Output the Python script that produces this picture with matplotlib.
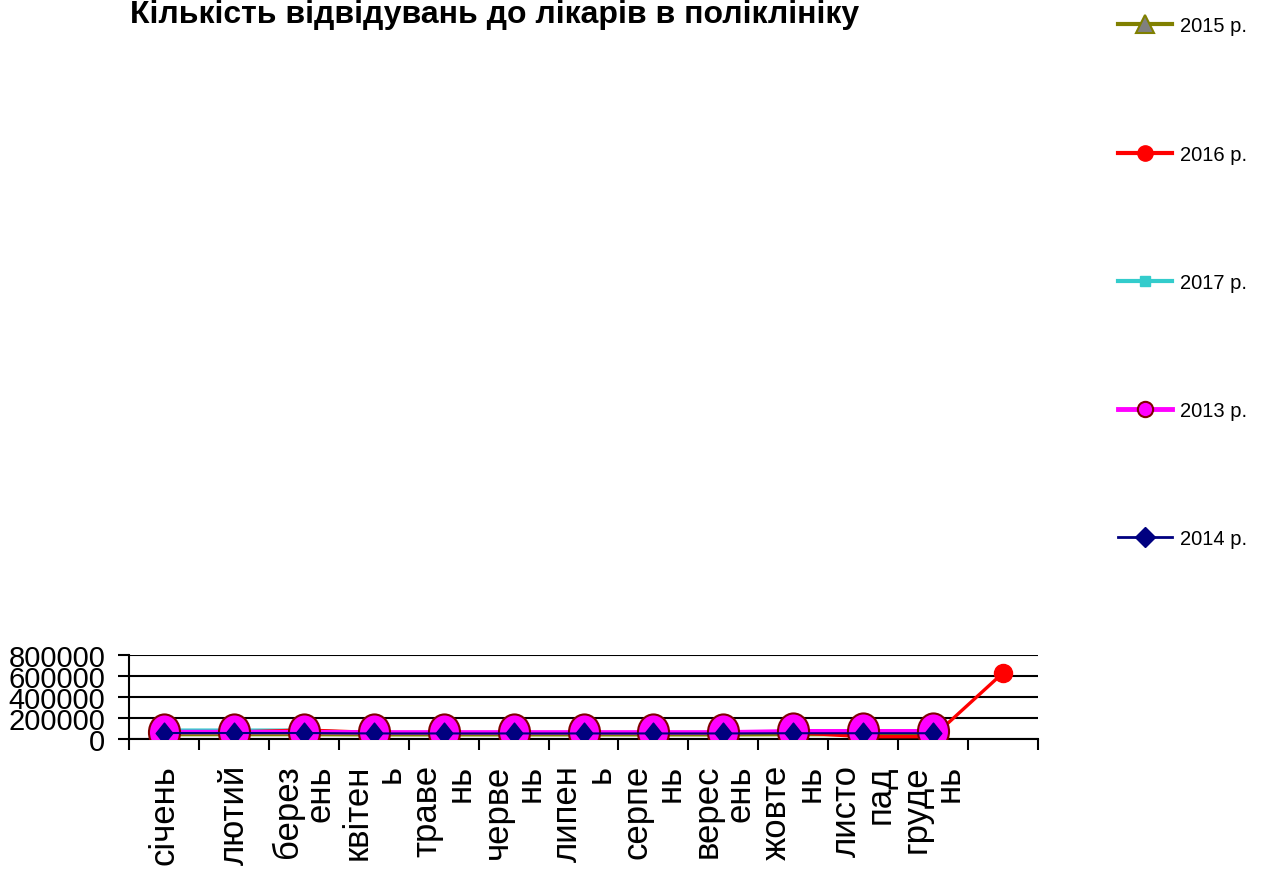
import numpy as np
import matplotlib
matplotlib.use("Agg")
import matplotlib.pyplot as plt
from matplotlib.lines import Line2D
from matplotlib.path import Path
from matplotlib.ticker import FixedLocator

plt.rcParams["font.family"] = ["Liberation Sans", "DejaVu Sans"]

# ── data ─────────────────────────────────────────────────────────────────────
months = ["січень", "лютий", "берез\nень", "квітен\nь", "траве\nнь", "черве\nнь",
          "липен\nь", "серпе\nнь", "верес\nень", "жовте\nнь", "листо\nпад",
          "груде\nнь", ""]
nan = np.nan
v2015 = [40000, 40000, 40000, 38000, 38000, 38000, 38000, 38000, 38000, 40000, 40000, 40000, nan]
v2016 = [65000, 65000, 86000, 62000, 62000, 62000, 62000, 62000, 62000, 62000, 22000, 22000, 630000]
v2017 = [86000, 86000, 86000, 56000, 56000, 56000, 56000, 56000, 56000, 58000, 58000, 58000, nan]
v2013 = [66000, 66000, 66000, 63000, 63000, 63000, 63000, 63000, 63000, 74000, 74000, 74000, nan]
v2014 = [57000, 57000, 57000, 53000, 53000, 53000, 53000, 53000, 53000, 55000, 55000, 55000, nan]
yticks = [0, 200000, 400000, 600000, 800000]

x = np.arange(len(months))

circ = Path.unit_circle()
ellipse = Path(circ.vertices * [0.86, 1.0], circ.codes)
diamond = Path([(0, 1), (0.8, 0), (0, -1), (-0.8, 0), (0, 1)],
               [Path.MOVETO, Path.LINETO, Path.LINETO, Path.LINETO, Path.CLOSEPOLY])

fig = plt.figure(figsize=(12.62, 8.79), dpi=100)
ax = fig.add_axes([129 / 1262, 1 - 740 / 879, 909 / 1262, 84 / 879])

ax.set_xlim(-0.5, 12.5)
ax.set_ylim(0, 800000)
for yv in yticks:
    ax.axhline(yv, color="black", lw=1.5, zorder=1)

ax.plot(x, v2017, color="#33CCCC", lw=2.2, marker="s", ms=6, zorder=2)
ax.plot(x, v2015, color="#808000", lw=2.2, marker="^", ms=12, mfc="#808080",
        mec="#808000", mew=1.5, zorder=2.5)
ax.plot(x, v2016, color="red", lw=2.4, marker="o", ms=13, zorder=3)
ax.plot(x, v2013, color="magenta", lw=3.2, marker=ellipse, ms=26, mfc="magenta",
        mec="#800000", mew=1.5, zorder=4)
ax.plot(x, v2014, color="#000080", lw=1.5, marker=diamond, ms=15, zorder=5)

for s in ["top", "right"]:
    ax.spines[s].set_visible(False)
ax.spines["left"].set_linewidth(1.5)
ax.spines["bottom"].set_linewidth(1.5)

ax.set_yticks(yticks)
ax.set_yticklabels([str(v) for v in yticks], fontsize=21)
ax.tick_params(axis="y", direction="out", length=8, width=1.5, pad=9)

ax.set_xticks(x)
ax.set_xticklabels(months, rotation=90, fontsize=25, va="top", ha="center",
                   ma="right", linespacing=1.0)
ax.xaxis.set_minor_locator(FixedLocator(np.arange(-0.5, 13, 1)))
ax.tick_params(axis="x", which="major", length=0, pad=18)
ax.tick_params(axis="x", which="minor", direction="out", length=8, width=1.5)

fig.text(495 / 1262, 1 - 15 / 879, "Кількість відвідувань до лікарів в поліклініку",
         ha="center", va="center", fontsize=23, fontweight="bold")

handles = [
    Line2D([], [], color="#808000", lw=3, marker="^", ms=13, mfc="#808080", mec="#808000", mew=1.5),
    Line2D([], [], color="red", lw=3, marker="o", ms=11),
    Line2D([], [], color="#33CCCC", lw=3, marker="s", ms=7),
    Line2D([], [], color="magenta", lw=3.5, marker="o", ms=11, mfc="magenta", mec="#800000", mew=1.5),
    Line2D([], [], color="#000080", lw=2, marker="D", ms=10),
]
labels = ["2015 р.", "2016 р.", "2017 р.", "2013 р.", "2014 р."]
fig.legend(handles, labels, loc="upper left", bbox_to_anchor=(1118 / 1262, 1 - 17.5 / 879),
           frameon=False, fontsize=14.5, handlelength=2.7, handletextpad=0.4,
           labelspacing=5.42, borderpad=0, borderaxespad=0)

fig.savefig("out.png", dpi=100)
